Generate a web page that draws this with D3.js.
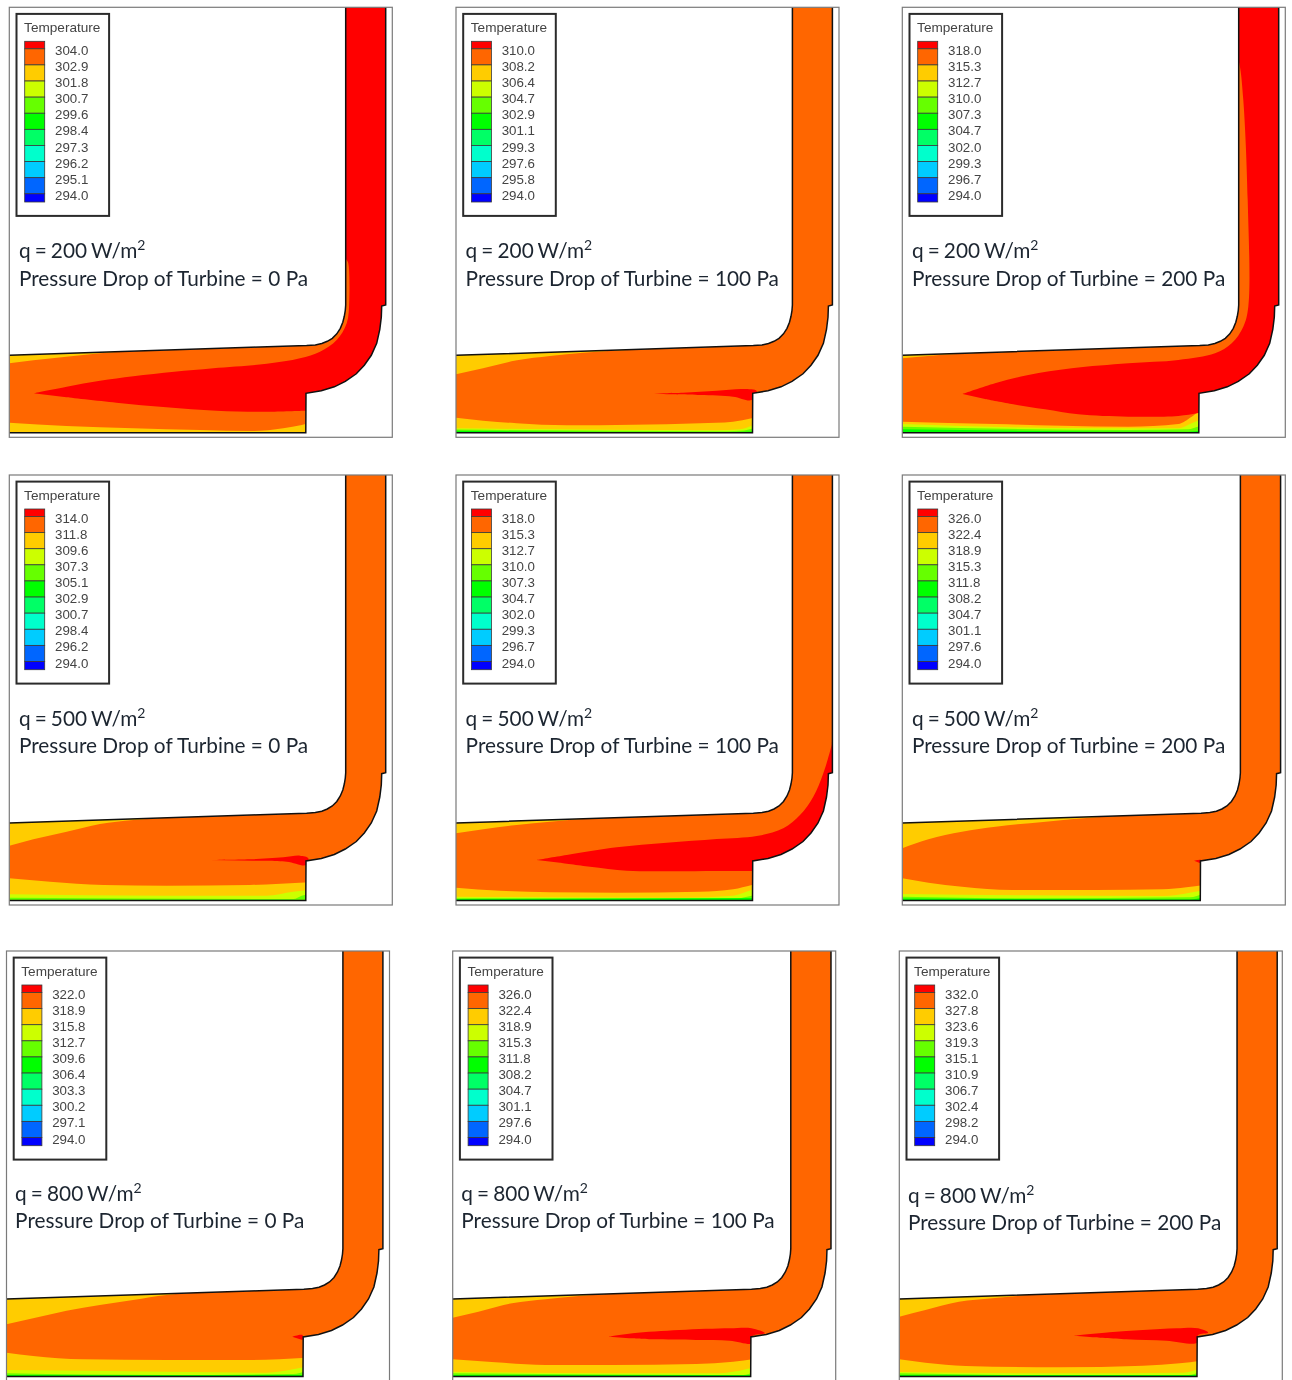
<!DOCTYPE html>
<html><head><meta charset="utf-8">
<script src="https://cdnjs.cloudflare.com/ajax/libs/d3/7.8.5/d3.min.js"></script>
<style>html,body{margin:0;padding:0;background:#fff;overflow:hidden}svg{display:block;filter:blur(0.35px)}</style>
</head><body><svg id="c" width="1292" height="1380"></svg>
<script>
// ---------- data ----------
const heatFlux = [200,200,200,500,500,500,800,800,800];
const pressureDrop = [0,100,200,0,100,200,0,100,200];
const legendValues = [
 ["304.0","302.9","301.8","300.7","299.6","298.4","297.3","296.2","295.1","294.0"],
 ["310.0","308.2","306.4","304.7","302.9","301.1","299.3","297.6","295.8","294.0"],
 ["318.0","315.3","312.7","310.0","307.3","304.7","302.0","299.3","296.7","294.0"],
 ["314.0","311.8","309.6","307.3","305.1","302.9","300.7","298.4","296.2","294.0"],
 ["318.0","315.3","312.7","310.0","307.3","304.7","302.0","299.3","296.7","294.0"],
 ["326.0","322.4","318.9","315.3","311.8","308.2","304.7","301.1","297.6","294.0"],
 ["322.0","318.9","315.8","312.7","309.6","306.4","303.3","300.2","297.1","294.0"],
 ["326.0","322.4","318.9","315.3","311.8","308.2","304.7","301.1","297.6","294.0"],
 ["332.0","327.8","323.6","319.3","315.1","310.9","306.7","302.4","298.2","294.0"]
];
const bandColors = ["#ff0000","#ff6600","#ffcc00","#ccff00","#66ff00","#00ff00","#00ff66","#00ffcc","#00ccff","#0066ff","#0000ff"];

// duct walls, in the drawing's own length units
const innerWall = [[336.4,0],[336.4,297.7],[336,303],[335,309],[333.5,315],[331,321],[327.5,326.5],[323,331],[318,334],[312.5,336.2],[306,337.6],[297.3,338.2],[0,348]];
const outerWall = [[376.4,0],[376.4,297.7],[372.4,298.7],[372,310],[370.5,322],[367.4,336],[362,348],[355,358],[347,366.5],[336,374],[325,379.5],[312,383.5],[296.7,386],[296.5,425.4],[0,425.4]];

// temperature contour boundaries per panel
const topYellow = [
 [[0,356],[24,353],[57,349.5],[90.7,346],[124,343.5]],
 [[0,367],[27,361],[61,353],[94,348.7],[127,345.5],[177,342.5],[240,339.7]],
 [[0,351],[40,347.5],[120,344],[190,341.5]],
 [[0,370.7],[24,364.3],[57.4,356.7],[90.7,349],[124,345],[157.4,342.7],[190.7,341],[234,339]],
 [[0,358.3],[27.3,354.3],[60.7,350],[94,346.7],[137.3,343.3]],
 [[0,373.3],[26,364.3],[59.4,356.7],[92.7,351.7],[142.7,346.7],[192.7,342.3],[246,339]],
 [[0,373.3],[26.6,367.3],[60,359.7],[93.3,354],[126.6,349],[160,344],[206.6,340.7]],
 [[0,366.7],[25.6,360.7],[59,352.3],[92.3,348.3],[125.6,345],[165.6,342]],
 [[0,365.7],[26,359],[59.4,350.7],[92.7,347.3],[132.7,343.5]]
];
const bandYellow = [
 [[0,415.4],[57,418.7],[124,421],[190.7,422.7],[244,423.7],[274,421],[292.4,417.7],[300,416]],
 [[0,410.4],[27,413.4],[60.7,416],[110.7,418],[177,417.4],[244,416],[277,414.4],[295.7,411],[300,410]],
 [[0,414.4],[92.7,416.7],[159.4,418.4],[226,419.4],[276,416.7],[289.4,409.4],[295.4,405.4],[300,404]],
 [[0,403.3],[40.7,406.7],[94,410],[157.4,410.7],[240.7,410],[300,407.3]],
 [[0,412.7],[44,415.7],[94,417.3],[160.7,417.7],[244,416.7],[277.3,414.3],[295.7,410],[300,409]],
 [[0,403.3],[26,407.7],[59.4,411.7],[109.4,415],[192.7,415],[259.4,414.3],[282.7,412.3],[300,410]],
 [[0,401.7],[26.6,405],[76.6,408.3],[160,409],[243.3,409],[300,406.7]],
 [[0,408.3],[42.3,411.3],[92.3,414],[159,414],[242.3,413],[279,410.7],[300,408]],
 [[0,408.3],[26,411.7],[66,415],[159.4,416.3],[242.7,414.7],[279.4,412.3],[300,409.7]]
];
const bandLight = [
 [],
 [[0,421],[260,423],[284,422],[296,418.4],[300,417]],
 [[0,416.7],[192.7,421],[276,421],[289.4,416],[295.4,413.4],[300,412]],
 [[0,419.3],[157,420.7],[257,420.7],[284,416.7],[300,415]],
 [[0,421.7],[227,422.7],[277,420.7],[295.7,415],[300,414]],
 [[0,419],[126,420.3],[259.4,421],[286,417.7],[300,415]],
 [[0,419],[160,420.7],[260,421.7],[286.6,418.3],[300,415.7]],
 [[0,420.7],[159,422.3],[259,422.3],[285.6,419.7],[300,416.3]],
 [[0,421],[159.4,422.3],[282.7,421.7],[300,417.3]]
];
const bandLime = [
 [],
 [[0,422.3],[260,424],[284,423.5],[300,420.5]],
 [[0,419.4],[226,422.7],[286,422],[295.4,419.4],[300,418]],
 [[0,422.7],[284,424],[292.4,420.7],[300,419]],
 [[0,423.3],[277,424],[295.7,420.7],[300,420]],
 [[0,421.7],[126,423.3],[286,422.3],[300,418.3]],
 [[0,422.3],[160,424],[286.6,423],[300,419.7]],
 [[0,422.3],[259,424],[289,424],[300,420.7]],
 [[0,422.3],[159.4,424.3],[287.7,424],[300,420.7]]
];
const bandDeep = [
 [],
 [[0,423.5],[260,425],[300,424]],
 [[0,422],[286,424.4],[300,423]],
 [],
 [[0,424],[300,423]],
 [[0,423.5],[286,424.5],[300,422]],
 [[0,424],[300,424]],
 [[0,424],[300,424]],
 [[0,424],[300,424]]
];
const redRegions = [
 [[24,386],[57.4,379.4],[90.7,373.5],[124,369],[165,364.5],[204,361],[257.4,356.5],[290.7,351],[310.7,344.4],[327.4,332.7],[337.4,316],[340,292.7],[339,256],[337.4,252.7],[332,245],[332,-5],[400,-5],[400,410],[300,403.4],[296.7,403.4],[257,404.4],[207,403.4],[157,400],[107,395.4],[57,390]],
 [[198,386],[227,385.4],[260.7,383.4],[287,381.7],[300.7,383.7],[295.7,392.7],[277,389.4],[244,387.7],[210.7,387]],
 [[60.4,386.7],[92.7,376],[126,367.7],[169.4,361],[226,356],[276,352.7],[312.7,346],[329.4,336],[341,319.4],[346,299.4],[345.4,192.7],[341,92.7],[337,56],[332,40],[332,-5],[400,-5],[400,410],[300,405],[294.4,406],[276,408.7],[226,409.4],[176,407],[142.7,402],[109.4,396.7],[82.7,391.7]],
 [[200.7,385],[240.7,384.3],[274,382.3],[290.7,380.7],[299,383.3],[296.7,390],[277.4,386.7],[244,385.7]],
 [[80.7,385],[110.7,380],[160.7,372.3],[210.7,367.7],[260.7,364],[300.7,361],[327.3,353.3],[344,340],[357.3,321.7],[367.3,298.3],[375.7,270],[376.5,266],[400,265],[400,400],[300,396],[295.7,396],[260.7,396],[210.7,396.3],[170.7,395.7],[134,391.7],[104,387.7]],
 [[290.4,385.7],[297.7,385],[298.4,389]],
 [[285.6,385.7],[296,384],[296,389]],
 [[155.6,385.7],[179,382.3],[225.6,379],[275.6,377.3],[297.3,377.3],[310.6,382.3],[298.3,385],[298.3,392.3],[275.6,389.7],[242.3,389],[199,388.3],[175.6,387.3]],
 [[174.4,384.7],[209.4,381.3],[242.7,379],[276,377.3],[297.7,377.3],[307.7,381.7],[297.7,384],[296.7,391.7],[266,389.7],[226,388.3],[192.7,386.3]]
];

// ---------- layout ----------
const originX = [9.3,456,902.3,9.3,456,902.3,6.5,452.7,899.3];
const originY = [7.3,7.3,7.3,475,475,475,951,951,951];
const stretchX = [1,1,1,1,1,1.005,1,1.005,1.004];
const noteDx = [0,0,0,0,0,0,-1,-1,-1];
const noteDy = [0,0,0,0,0,0,-1,-1,1];
const frameW = 383, frameH = 430;

// ---------- drawing ----------
const svg = d3.select("#c");
const ORANGE = bandColors[1], YELLOW = bandColors[2], LIGHT = bandColors[3], LIME = bandColors[4], GREEN = bandColors[5], RED = bandColors[0];
const legendFont = '"Liberation Sans",Arial,sans-serif';
const noteFont = 'Lato,"Noto Sans",sans-serif';

heatFlux.forEach((q,i)=>{
  const ox = originX[i], oy = originY[i];
  const x = d3.scaleLinear().domain([0,frameW]).range([ox, ox+frameW*stretchX[i]]);
  const y = d3.scaleLinear().domain([0,frameH]).range([oy, oy+frameH]);
  const g = svg.append("g");
  const poly = d3.line().x(d=>x(d[0])).y(d=>y(d[1]));
  const smooth = d3.line().x(d=>x(d[0])).y(d=>y(d[1])).curve(d3.curveCatmullRom.alpha(0.5));
  const ductPts = innerWall.concat(outerWall.slice().reverse());

  g.append("defs").append("clipPath").attr("id","duct"+i).append("path").attr("d",poly(ductPts)+"Z");

  const body = g.append("g").attr("clip-path",`url(#duct${i})`);
  body.append("path").attr("d",poly(ductPts)+"Z").attr("fill",ORANGE);

  const topArea = d3.area().x(d=>x(d[0])).y0(y(320)).y1(d=>y(d[1])).curve(d3.curveMonotoneX);
  body.append("path").datum(topYellow[i]).attr("d",topArea).attr("fill",YELLOW);

  const botArea = d3.area().x(d=>x(d[0])).y0(y(440)).y1(d=>y(d[1])).curve(d3.curveMonotoneX);
  [[bandYellow,YELLOW],[bandLight,LIGHT],[bandLime,LIME],[bandDeep,GREEN]].forEach(([arr,col])=>{
    if(arr[i].length) body.append("path").datum(arr[i]).attr("d",botArea).attr("fill",col);
  });
  body.append("path").attr("d",smooth(redRegions[i])+"Z").attr("fill",RED);

  // walls
  g.append("path").attr("d",poly(innerWall)).attr("fill","none").attr("stroke","#111").attr("stroke-width",1.5);
  g.append("path").attr("d",poly(outerWall)).attr("fill","none").attr("stroke","#111").attr("stroke-width",1.5);

  // frame
  g.append("rect").attr("x",ox).attr("y",oy).attr("width",frameW).attr("height",frameH)
    .attr("fill","none").attr("stroke","#7a7a7a").attr("stroke-width",1.2);

  // legend
  const labels = legendValues[i];
  const ly = d3.scalePoint().domain(d3.range(labels.length)).range([oy+43.7, oy+188.7]);
  const leg = g.append("g");
  leg.append("rect").attr("x",ox+7.2).attr("y",oy+6.6).attr("width",92.6).attr("height",202)
    .attr("fill","#fff").attr("stroke","#2b2b2b").attr("stroke-width",2);
  leg.append("text").attr("x",ox+14.8).attr("y",oy+24.6).text("Temperature")
    .attr("font-family",legendFont).attr("font-size",13.6).attr("fill","#444");
  const edges = [oy+34].concat(labels.map((_,k)=>ly(k)-2.2), [oy+194.7]);
  bandColors.forEach((c,k)=>{
    leg.append("rect").attr("x",ox+15.4).attr("y",edges[k]).attr("width",20).attr("height",edges[k+1]-edges[k])
      .attr("fill",c).attr("stroke","#3a3a3a").attr("stroke-width",0.8);
  });
  leg.selectAll("text.v").data(labels).join("text").attr("class","v")
    .attr("x",ox+45.7).attr("y",(d,k)=>ly(k)+3.9).text(d=>d)
    .attr("font-family",legendFont).attr("font-size",13.3).attr("fill","#444");

  // notes
  const tx = ox+9.6+noteDx[i];
  const t1 = g.append("text").attr("x",tx).attr("y",oy+250.5+noteDy[i])
    .attr("font-family",noteFont).attr("font-size",20.8).attr("word-spacing",-1.2).attr("fill","#1c2530");
  t1.append("tspan").text(`q = ${q} W/m`);
  t1.append("tspan").text("2").attr("font-size",14).attr("dy",-7.5);
  g.append("text").attr("x",tx).attr("y",oy+278.2+noteDy[i])
    .attr("font-family",noteFont).attr("font-size",20.8).attr("fill","#1c2530")
    .text(`Pressure Drop of Turbine = ${pressureDrop[i]} Pa`);
});
</script></body></html>
